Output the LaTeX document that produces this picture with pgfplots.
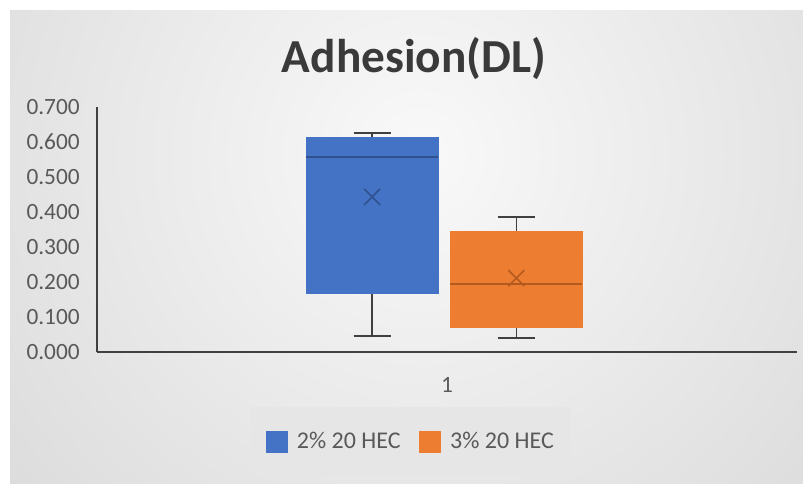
\documentclass[border=0pt]{standalone}
\usepackage{pgfplots}
\pgfplotsset{compat=1.18}
\usepgfplotslibrary{statistics}
\usepackage{fontspec}
\setmainfont{Carlito}
\definecolor{cBlue}{HTML}{4472C4}
\definecolor{cBlueD}{HTML}{2F528F}
\definecolor{cOr}{HTML}{ED7D31}
\definecolor{cOrD}{HTML}{B55A1E}
\definecolor{cWh}{HTML}{404040}
\definecolor{axisc}{HTML}{404040}
\definecolor{txt}{HTML}{595959}
\definecolor{ttl}{HTML}{3A3A3A}
\definecolor{bgin}{HTML}{F9F9F9}
\definecolor{bgout}{HTML}{C8C8C8}
\definecolor{legbg}{HTML}{E6E6E6}
\begin{document}
\begin{tikzpicture}[x=0.75pt,y=0.75pt]
\fill[white] (0,0) rectangle (803,484);
\begin{scope}
\clip (10,0) rectangle (803,473);
\fill[bgout] (10,0) rectangle (803,473);
\shade[inner color=bgin, outer color=bgout] (420,330) circle (900);
\end{scope}
\node[font=\fontsize{35.5}{42}\selectfont\bfseries, text=ttl] at (414,425) {Adhesion(DL)};
\begin{axis}[
  at={(72.75pt,99pt)}, anchor=south west,
  scale only axis, width=525pt, height=183.75pt,
  xmin=0.5, xmax=1.5, ymin=0, ymax=0.7,
  boxplot/draw direction=y,
  axis x line=bottom, axis y line=left,
  x axis line style={draw=axisc, line width=2.2pt, -},
  y axis line style={draw=axisc, line width=1.3pt, -},
  major tick length=0pt,
  xtick={1}, xticklabels={1}, ytick={0,0.1,0.2,0.3,0.4,0.5,0.6,0.7},
  /pgf/number format/.cd, fixed, fixed zerofill, precision=3, assume math mode=true, /pgfplots/.cd,
  yticklabel style={inner sep=0pt, xshift=-12.75pt, font=\fontsize{17.5}{20}\selectfont, text=txt},
  xticklabel style={inner sep=0pt, yshift=-19pt, font=\fontsize{17.5}{20}\selectfont, text=txt},
  clip=false,
  legend columns=2,
  legend style={at={(0.449,-0.365)}, anchor=center, fill=legbg, draw=none,
    inner xsep=11pt, inner ysep=17pt,
    font=\fontsize{18}{20}\selectfont, text=txt,
    nodes={inner sep=2pt},
    /tikz/every odd column/.append style={column sep=5pt},
    /tikz/every even column/.append style={column sep=12pt}},
]
\addplot[forget plot, fill=cBlue, draw=cBlue,
  boxplot prepared={draw position=0.893, lower whisker=0.046, lower quartile=0.169,
    median=0.557, upper quartile=0.614, upper whisker=0.626,
    box extend=0.189, whisker extend=0.053,
    every box/.style={fill=cBlue, draw=cBlue},
    every whisker/.style={draw=cWh, line width=1.1pt},
    every median/.style={draw=cBlueD, line width=1.1pt}}]
  coordinates {};
\addplot[forget plot, fill=cOr, draw=cOr,
  boxplot prepared={draw position=1.099, lower whisker=0.040, lower quartile=0.071,
    median=0.194, upper quartile=0.346, upper whisker=0.386,
    box extend=0.189, whisker extend=0.053,
    every box/.style={fill=cOr, draw=cOr},
    every whisker/.style={draw=cWh, line width=1.1pt},
    every median/.style={draw=cOrD, line width=1.1pt}}]
  coordinates {};
% means
\addplot[forget plot, only marks, mark=x, mark size=8.5pt, mark options={draw=cBlueD, line width=1.2pt}]
  coordinates {(0.893,0.443)};
\addplot[forget plot, only marks, mark=x, mark size=8.5pt, mark options={draw=cOrD, line width=1.2pt}]
  coordinates {(1.099,0.211)};
\addlegendimage{legend image code/.code={\fill[cBlue] (0pt,-7.9pt) rectangle (15.75pt,7.9pt);}}
\addlegendentry{2\% 20 HEC}
\addlegendimage{legend image code/.code={\fill[cOr] (0pt,-7.9pt) rectangle (15.75pt,7.9pt);}}
\addlegendentry{3\% 20 HEC}
\end{axis}
\end{tikzpicture}
\end{document}
